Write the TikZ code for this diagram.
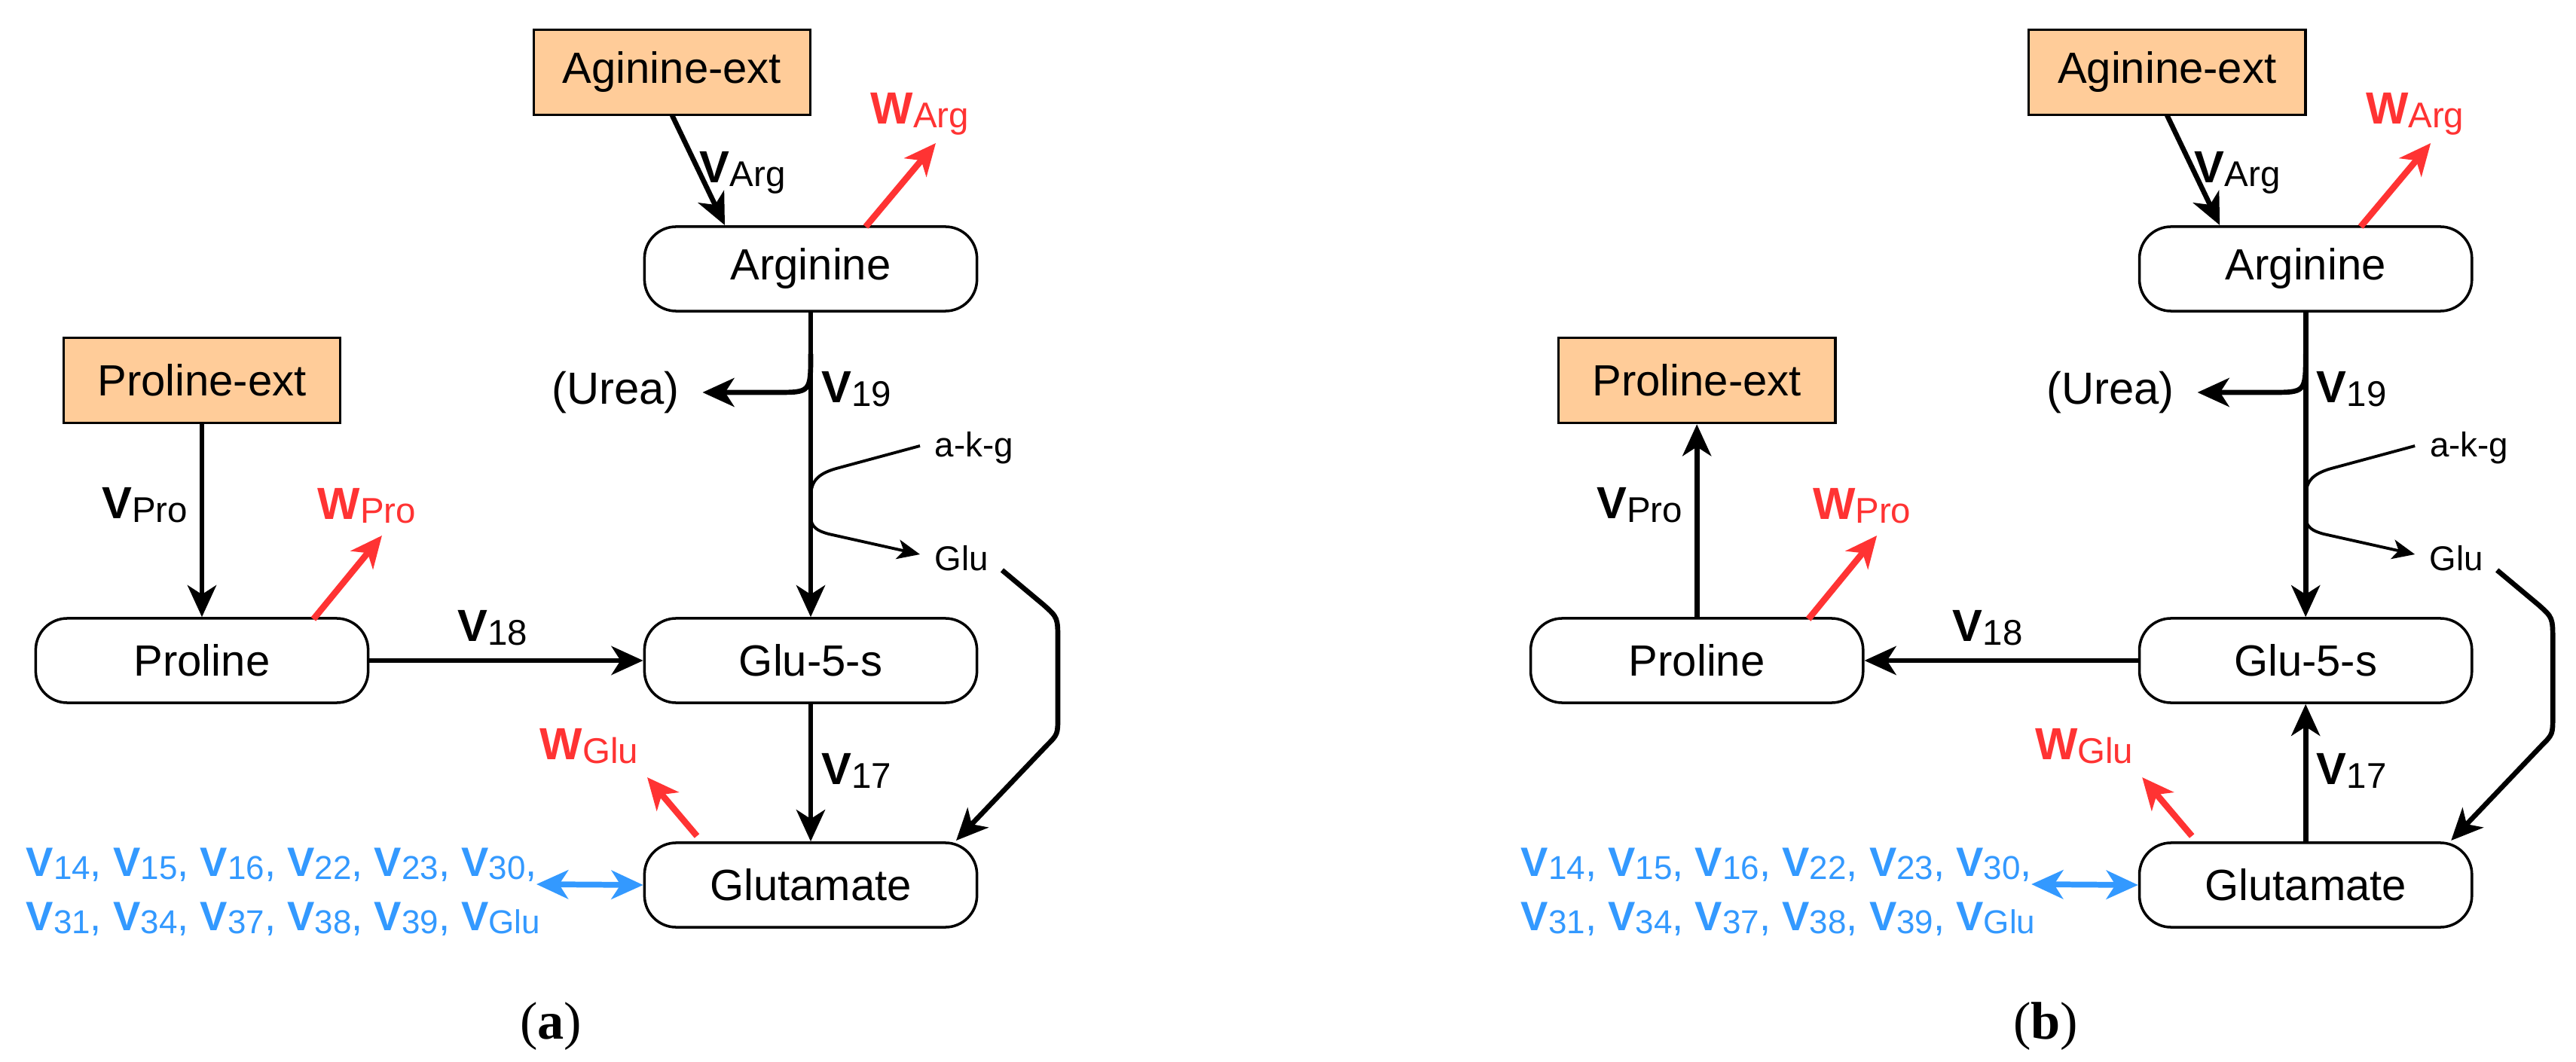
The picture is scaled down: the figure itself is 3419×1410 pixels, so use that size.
\documentclass[tikz,border=0pt]{standalone}
\usepackage{fontspec}
\setmainfont{Liberation Sans}
\newfontfamily\capfont{Liberation Serif}
\usetikzlibrary{arrows.meta}
\definecolor{ora}{HTML}{FFCC99}
\definecolor{red1}{HTML}{FF3333}
\definecolor{blu1}{HTML}{3399FF}
\newcommand{\sub}[1]{{\fontsize{13.5}{14}\selectfont\raisebox{-0.2ex}{#1}}}
\newcommand{\bsub}[1]{{\fontsize{12.5}{14}\selectfont\raisebox{-0.2ex}{#1}}}
\newcommand{\vv}[2]{\textbf{#1}\sub{#2}}
\newcommand{\bv}[1]{\textbf{V}\bsub{#1}}
\tikzset{
 rbox/.style={draw,line width=1pt,rounded corners=0.42cm,minimum width=4.41cm,minimum height=1.12cm,font=\fontsize{16.5}{18}\selectfont},
 obox/.style={draw,line width=1pt,fill=ora,minimum width=3.67cm,minimum height=1.13cm,font=\fontsize{16.5}{18}\selectfont},
 tip/.tip={Stealth[length=0.42cm,width=0.38cm,inset=0.12cm]},
 arr/.style={line width=1.9pt,-tip},
 rarr/.style={line width=2.4pt,red1,-tip},
 lab/.style={font=\fontsize{17}{18}\selectfont,inner sep=0pt},
 small/.style={font=\fontsize{13}{14}\selectfont,inner sep=0pt},
}
\newcommand{\panel}[3]{%
\begin{scope}[xshift=#2]
\node[obox] (#1aext) at (892,96) {Aginine-ext};
\node[rbox] (#1arg) at (1076,357) {Arginine};
\node[obox] (#1pext) at (268,505) {Proline-ext};
\node[rbox] (#1pro) at (268,877) {Proline};
\node[rbox] (#1g5s) at (1076,877) {Glu-5-s};
\node[rbox] (#1glu) at (1076,1175) {Glutamate};
\node[lab] (#1urea) at (817,521) {(Urea)};
\node[small] (#1akg) at (1293,595) {a-k-g};
\node[small] (#1gl) at (1276,741) {Glu};
\coordinate (#1aS) at (892,153);
\coordinate (#1aE) at (962,299);
\draw[arr] (#1aS) -- (#1aE);
\node[lab,anchor=west] at (928,229) {\vv{V}{Arg}};
\coordinate (#1wa1) at (1149,301); \coordinate (#1wa2) at (1242,190);
\draw[rarr] (#1wa1) -- (#1wa2);
\node[lab,red1] at (1221,151) {\vv{W}{Arg}};
\draw[arr] (#1arg.south) -- (#1g5s.north);
\node[lab,anchor=west] at (1090,517) {\vv{V}{19}};
\coordinate (#1u0) at (1076,470);
\draw[arr] (#1u0) .. controls (1076,521) .. (1030,521) -- ([xshift=0.3cm]#1urea.east);
\coordinate (#1k1) at (1221,592);\coordinate (#1k2) at (1221,736);
\draw[line width=1.1pt,-{Stealth[length=0.3cm,width=0.26cm,inset=0.08cm]}] (#1k1) -- (1110,622) .. controls (1078,631) and (1076,645) .. (1076,665) -- (1076,685) .. controls (1076,700) and (1085,705) .. (1100,709) -- (#1k2);
\coordinate (#1c1) at (1330,757);
\coordinate (#1c2) at (1269,1116);
\draw[arr] (#1c1) -- (1385,803) .. controls (1404,820) .. (1404,851) -- (1404,951) .. controls (1404,975) .. (1389,990) -- (#1c2);
#3
\node[lab] at (654,834) {\vv{V}{18}};
\node[lab] at (192,671) {\vv{V}{Pro}};
\node[lab,anchor=west] at (1090,1023) {\vv{V}{17}};
\coordinate (#1wp1) at (416,822); \coordinate (#1wp2) at (507,711);
\draw[rarr] (#1wp1) -- (#1wp2);
\node[lab,red1] at (487,672) {\vv{W}{Pro}};
\coordinate (#1wg1) at (925,1110); \coordinate (#1wg2) at (859,1032);
\draw[rarr] (#1wg1) -- (#1wg2);
\node[lab,red1] at (782,991) {\vv{W}{Glu}};
\coordinate (#1b1) at (712,1174);
\draw[blu1,line width=2.2pt,tip-tip] (#1b1) -- (#1glu.west);
\node[blu1,font=\fontsize{15.5}{18}\selectfont,anchor=west,inner sep=0pt] at (34,1148) {\bv{14}, \bv{15}, \bv{16}, \bv{22}, \bv{23}, \bv{30},};
\node[blu1,font=\fontsize{15.5}{18}\selectfont,anchor=west,inner sep=0pt] at (34,1220) {\bv{31}, \bv{34}, \bv{37}, \bv{38}, \bv{39}, \bv{Glu}};
\end{scope}}
\begin{document}
\begin{tikzpicture}[x=0.01cm,y=-0.01cm]
\useasboundingbox (0,0) rectangle (3419,1410);
\panel{a}{0cm}{%
\draw[arr] (apext.south) -- (apro.north);
\draw[arr] (apro.east) -- (ag5s.west);
\draw[arr] (ag5s.south) -- (aglu.north);
\node[font=\fontsize{20}{22}\selectfont\capfont] at (731,1363) {(\textbf{a})};}
\panel{b}{19.83cm}{%
\draw[arr] (bpro.north) -- (bpext.south);
\draw[arr] (bg5s.west) -- (bpro.east);
\draw[arr] (bglu.north) -- (bg5s.south);
\node[font=\fontsize{20}{22}\selectfont\capfont] at (731,1363) {(\textbf{b})};}
\end{tikzpicture}
\end{document}
